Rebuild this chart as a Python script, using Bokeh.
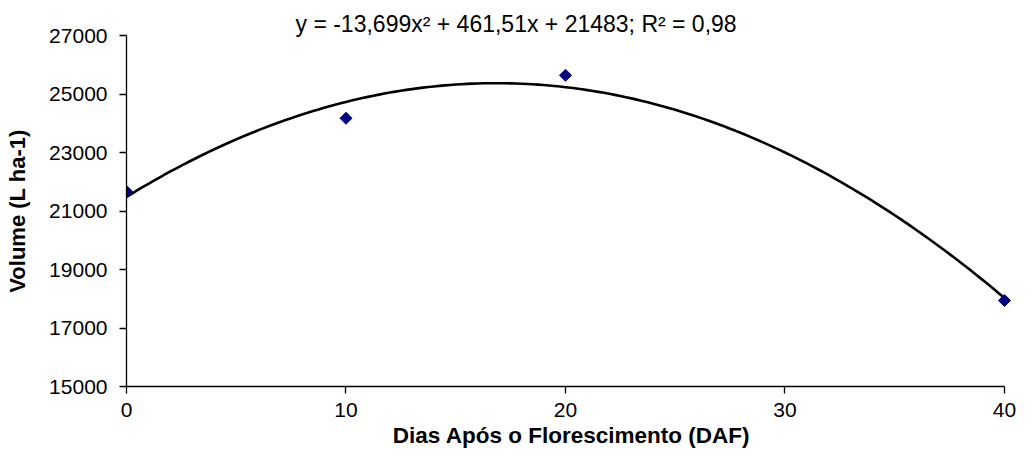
import numpy as np
from bokeh.plotting import figure
from bokeh.models import FixedTicker, Range1d
from bokeh.embed import file_html
from bokeh.resources import INLINE

# Observed data
dias = [0, 10, 20, 40]
volume = [21670, 24170, 25640, 17940]

# Trend line coefficients shown on the chart (y = a x^2 + b x + c)
coef_a = -13.699
coef_b = 461.51
coef_c = 21483
equation_text = "y = -13,699x\u00b2 + 461,51x + 21483; R\u00b2 = 0,98"

x_ticks = [0, 10, 20, 30, 40]
y_ticks = [15000, 17000, 19000, 21000, 23000, 25000, 27000]

FONT = "Liberation Sans"

p = figure(width=1016, height=456, output_backend="svg", toolbar_location=None,
           x_range=Range1d(0, 40.547), y_range=Range1d(15000, 27000),
           min_border_left=126, min_border_right=0, min_border_top=35, min_border_bottom=70)
p.outline_line_color = None
p.xgrid.grid_line_color = None
p.ygrid.grid_line_color = None
p.background_fill_color = "white"
p.border_fill_color = "white"

# equation of the trend line, as chart title
p.title.text = equation_text
p.title.align = "left"
p.title.offset = 169
p.title.standoff = -3
p.title.text_font = FONT
p.title.text_font_size = "23px"
p.title.text_font_style = "normal"
p.title.text_color = "black"

# trend line
xs = np.linspace(0, 40, 161)
ys = coef_a * xs ** 2 + coef_b * xs + coef_c
p.line(xs, ys, line_color="black", line_width=2.6)

# points
p.scatter(dias, volume, marker="square", angle=np.pi / 4, size=8.5,
          fill_color="#000080", line_color="#000080")

for ax in (p.xaxis[0], p.yaxis[0]):
    ax.axis_line_color = "black"
    ax.axis_line_width = 1.3
    ax.major_tick_line_color = "black"
    ax.major_tick_line_width = 1.3
    ax.major_tick_in = 0
    ax.major_tick_out = 7
    ax.minor_tick_line_color = None
    ax.major_label_text_font = FONT
    ax.major_label_text_font_size = "21px"
    ax.major_label_text_color = "black"
    ax.axis_label_text_font = FONT
    ax.axis_label_text_font_style = "bold"
    ax.axis_label_text_color = "black"

p.xaxis.axis_label_text_font_size = "22.5px"
p.yaxis.axis_label_text_font_size = "22px"
p.xaxis.bounds = (0, 40)
p.xaxis.ticker = FixedTicker(ticks=x_ticks)
p.yaxis.ticker = FixedTicker(ticks=y_ticks)
p.xaxis.major_label_standoff = 9
p.yaxis.major_label_standoff = 12
p.xaxis.axis_label = "Dias Após o Florescimento (DAF)"
p.yaxis.axis_label = "Volume (L ha-1)"
p.xaxis.axis_label_standoff = 3
p.yaxis.axis_label_standoff = 16

open("out.html", "w").write(file_html(p, INLINE))
